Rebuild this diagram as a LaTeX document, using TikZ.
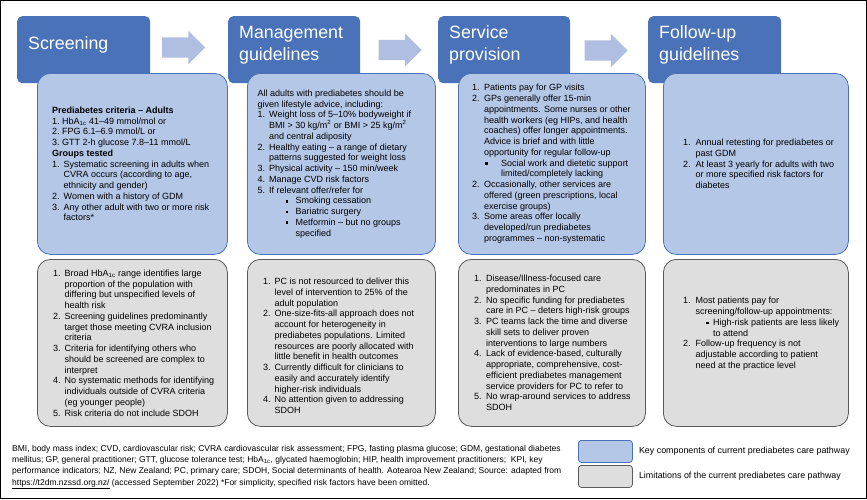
\documentclass[tikz,border=0pt]{standalone}
\usepackage{fontspec}
\setmainfont{Liberation Sans}
\usetikzlibrary{positioning,shapes.arrows,calc}
\definecolor{hdblue}{RGB}{74,114,184}
\definecolor{kcblue}{RGB}{180,199,231}
\definecolor{arblue}{RGB}{176,190,226}
\definecolor{limgrey}{RGB}{222,222,222}
\definecolor{limedge}{RGB}{90,90,90}
\tikzset{
  hdr/.style={rectangle, rounded corners=5pt, fill=hdblue, draw=none, anchor=north west,
              minimum width=133pt, minimum height=67pt, inner sep=0pt},
  hdtxt/.style={anchor=west, align=left, text=white, inner sep=0pt,
                font=\fontsize{17.8}{22}\selectfont},
  keybox/.style={rectangle, rounded corners=13pt, fill=kcblue, draw=hdblue, line width=0.8pt,
                 anchor=north west, minimum height=181pt, inner sep=0pt},
  limbox/.style={rectangle, rounded corners=13pt, fill=limgrey, draw=limedge, line width=0.8pt,
                 anchor=north west, minimum height=167pt, inner sep=0pt},
  txt/.style={anchor=west, align=left, inner sep=0pt, font=\fontsize{9}{10.75}\selectfont},
  flow/.style={single arrow, fill=arblue, draw=none, inner xsep=0pt, inner ysep=10pt,
               minimum height=43pt, single arrow head extend=6.5pt},
  swatch/.style={rectangle, rounded corners=3pt, line width=0.8pt, anchor=north west,
                 minimum width=54pt, minimum height=22pt, inner sep=0pt},
  foot/.style={align=left, inner sep=0pt, font=\fontsize{8.5}{11.3}\selectfont},
}
% list helpers: item number, continuation indent, small square bullet
\newcommand{\nm}[2][11.5pt]{\makebox[#1][l]{#2}}
\newcommand{\ind}[1][11.5pt]{\hspace*{#1}}
\newcommand{\sqb}{\rule[1.3pt]{2.6pt}{2.6pt}}
\newcommand{\hba}{HbA\textsubscript{1c}}

\begin{document}
\begin{tikzpicture}[x=1pt, y=-1pt]
\useasboundingbox (0,0) rectangle (867,499);

% ============================ column headers ============================
\node[hdr] (h1) at (17,16) {};
\node[hdr, minimum width=132pt] (h2) at (228,16) {};
\node[hdr, minimum width=132pt] (h3) at (438,16) {};
\node[hdr] (h4) at (648,16) {};

\node[hdtxt] (h1t) at ($(h1.north west)+(11,29)$) {Screening};
\node[hdtxt] (h2t) at ($(h2.north west)+(11,29)$) {Management\\guidelines};
\node[hdtxt] (h3t) at ($(h3.north west)+(11,29)$) {Service\\provision};
\node[hdtxt] (h4t) at ($(h4.north west)+(11,29)$) {Follow-up\\guidelines};

% ============================ flow arrows ===============================
\node[flow] (a12) at (178.5,47.5) {};
\node[flow] (a23) at (395,50) {};
\node[flow] (a34) at (601,50.5) {};

% ============================ key components ============================
\node[keybox, minimum width=190pt] (k1) at (37,73) {};
\node[keybox, minimum width=188pt] (k2) at (247,73) {};
\node[keybox, minimum width=187pt] (k3) at (458,73) {};
\node[keybox, minimum width=185pt] (k4) at (663,73) {};

% ============================ limitations ===============================
\node[limbox, minimum width=190pt] (l1) at (37,259) {};
\node[limbox, minimum width=188pt] (l2) at (247,259) {};
\node[limbox, minimum width=187pt] (l3) at (458,259) {};
\node[limbox, minimum width=185pt] (l4) at (663,259) {};

% ============================ box texts =================================
\node[txt] (k1t) at ([xshift=15pt]k1.west)
  {\textbf{Prediabetes criteria – Adults}\\
   \nm[10pt]{1.}\hba\ 41–49 mmol/mol or\\
   \nm[10pt]{2.}FPG 6.1–6.9 mmol/L or\\
   \nm[10pt]{3.}GTT 2-h glucose 7.8–11 mmol/L\\
   \textbf{Groups tested}\\
   \nm{1.}Systematic screening in adults when\\
   \ind CVRA occurs (according to age,\\
   \ind ethnicity and gender)\\
   \nm{2.}Women with a history of GDM\\
   \nm{3.}Any other adult with two or more risk\\
   \ind factors*};

\node[txt] (k2t) at ([xshift=10.5pt]k2.west)
  {All adults with prediabetes should be\\
   given lifestyle advice, including:\\
   \nm{1.}Weight loss of 5–10\% bodyweight if\\
   \ind BMI > 30 kg/m\textsuperscript{2} or BMI > 25 kg/m\textsuperscript{2}\\
   \ind and central adiposity\\
   \nm{2.}Healthy eating – a range of dietary\\
   \ind patterns suggested for weight loss\\
   \nm{3.}Physical activity – 150 min/week\\
   \nm{4.}Manage CVD risk factors\\
   \nm{5.}If relevant offer/refer for\\
   \ind[28pt]\makebox[10pt][l]{\sqb}Smoking cessation\\
   \ind[28pt]\makebox[10pt][l]{\sqb}Bariatric surgery\\
   \ind[28pt]\makebox[10pt][l]{\sqb}Metformin – but no groups\\
   \ind[38pt]specified};

\node[txt] (k3t) at ([xshift=14pt]k3.west)
  {\nm[12pt]{1.}Patients pay for GP visits\\
   \nm[12pt]{2.}GPs generally offer 15-min\\
   \ind[12pt]appointments. Some nurses or other\\
   \ind[12pt]health workers (eg HIPs, and health\\
   \ind[12pt]coaches) offer longer appointments.\\
   \ind[12pt]Advice is brief and with little\\
   \ind[12pt]opportunity for regular follow-up\\
   \ind[13pt]\makebox[16pt][l]{\sqb}Social work and dietetic support\\
   \ind[29pt]limited/completely lacking\\
   \nm[12pt]{2.}Occasionally, other services are\\
   \ind[12pt]offered (green prescriptions, local\\
   \ind[12pt]exercise groups)\\
   \nm[12pt]{3.}Some areas offer locally\\
   \ind[12pt]developed/run prediabetes\\
   \ind[12pt]programmes – non-systematic};

\node[txt] (k4t) at ([xshift=20pt]k4.west)
  {\nm[12.5pt]{1.}Annual retesting for prediabetes or\\
   \ind[12.5pt]past GDM\\
   \nm[12.5pt]{2.}At least 3 yearly for adults with two\\
   \ind[12.5pt]or more specified risk factors for\\
   \ind[12.5pt]diabetes};

\node[txt] (l1t) at ([xshift=16pt]l1.west)
  {\nm{1.}Broad \hba\ range identifies large\\
   \ind proportion of the population with\\
   \ind differing but unspecified levels of\\
   \ind health risk\\
   \nm{2.}Screening guidelines predominantly\\
   \ind target those meeting CVRA inclusion\\
   \ind criteria\\
   \nm{3.}Criteria for identifying others who\\
   \ind should be screened are complex to\\
   \ind interpret\\
   \nm{4.}No systematic methods for identifying\\
   \ind individuals outside of CVRA criteria\\
   \ind (eg younger people)\\
   \nm{5.}Risk criteria do not include SDOH};

\node[txt] (l2t) at ([xshift=16pt,yshift=-3pt]l2.west)
  {\nm{1.}PC is not resourced to deliver this\\
   \ind level of intervention to 25\% of the\\
   \ind adult population\\
   \nm{2.}One-size-fits-all approach does not\\
   \ind account for heterogeneity in\\
   \ind prediabetes populations. Limited\\
   \ind resources are poorly allocated with\\
   \ind little benefit in health outcomes\\
   \nm{3.}Currently difficult for clinicians to\\
   \ind easily and accurately identify\\
   \ind higher-risk individuals\\
   \nm{4.}No attention given to addressing\\
   \ind SDOH};

\node[txt] (l3t) at ([xshift=16pt]l3.west)
  {\nm[12pt]{1.}Disease/Illness-focused care\\
   \ind[12pt]predominates in PC\\
   \nm[12pt]{2.}No specific funding for prediabetes\\
   \ind[12pt]care in PC – deters high-risk groups\\
   \nm[12pt]{3.}PC teams lack the time and diverse\\
   \ind[12pt]skill sets to deliver proven\\
   \ind[12pt]interventions to large numbers\\
   \nm[12pt]{4.}Lack of evidence-based, culturally\\
   \ind[12pt]appropriate, comprehensive, cost-\\
   \ind[12pt]efficient prediabetes management\\
   \ind[12pt]service providers for PC to refer to\\
   \nm[12pt]{5.}No wrap-around services to address\\
   \ind[12pt]SDOH};

\node[txt] (l4t) at ([xshift=20pt,yshift=9pt]l4.west)
  {\nm[12.5pt]{1.}Most patients pay for\\
   \ind[12.5pt]screening/follow-up appointments:\\
   \ind[23pt]\makebox[7pt][l]{\sqb}High-risk patients are less likely\\
   \ind[30pt]to attend\\
   \nm[12.5pt]{2.}Follow-up frequency is not\\
   \ind[12.5pt]adjustable according to patient\\
   \ind[12.5pt]need at the practice level};

% ============================ footnote and legend =======================
\node[foot, anchor=base west] (fn) at (12,485)
  {BMI, body mass index; CVD, cardiovascular risk; CVRA cardiovascular risk assessment; FPG, fasting plasma glucose; GDM, gestational diabetes\\
   mellitus; GP, general practitioner; GTT, glucose tolerance test; \hba, glycated haemoglobin; HIP, health improvement practitioners;\ \ KPI, key\\
   performance indicators; NZ, New Zealand; PC, primary care; SDOH, Social determinants of health. Aotearoa New Zealand; Source: adapted from\\
   \underline{https://t2dm.nzssd.org.nz/} (accessed September 2022) *For simplicity, specified risk factors have been omitted.};

\node[swatch, fill=kcblue, draw=hdblue] (sk) at (578,440) {};
\node[swatch, fill=limgrey, draw=limedge] (sl) at (578,465) {};
\node[foot, anchor=west, font=\fontsize{8.9}{10}\selectfont, right=6pt of sk] (skt)
  {Key components of current prediabetes care pathway};
\node[foot, anchor=west, font=\fontsize{8.9}{10}\selectfont, right=6pt of sl] (slt)
  {Limitations of the current prediabetes care pathway};

% ============================ frame =====================================
\draw[line width=1.2pt] (0.6,0.6) rectangle (866.4,498.4);

\end{tikzpicture}
\end{document}
